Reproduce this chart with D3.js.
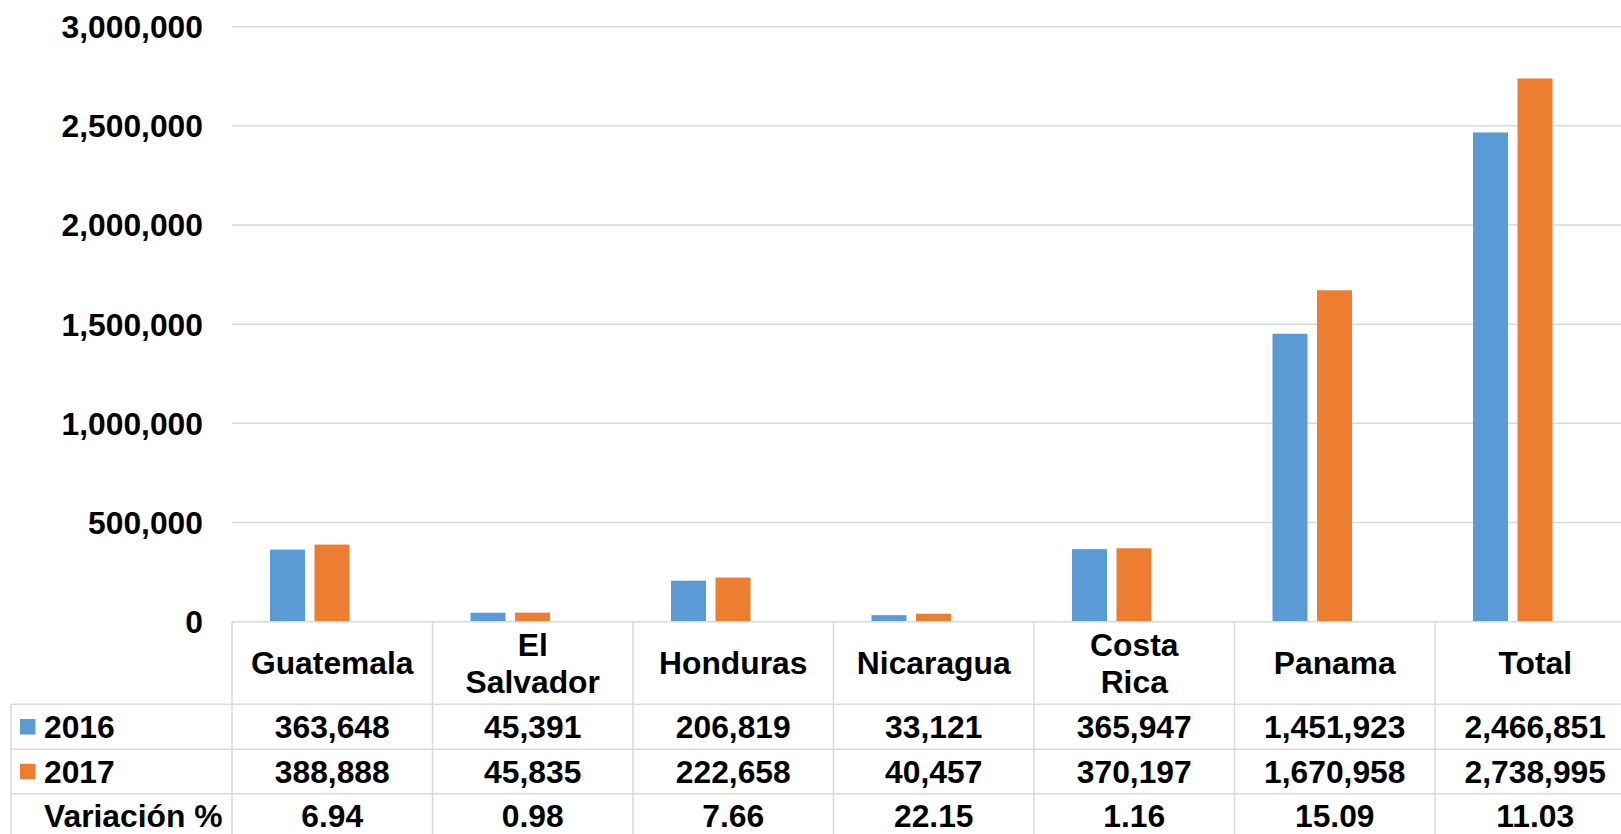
<!DOCTYPE html>
<html>
<head>
<meta charset="utf-8">
<script src="https://cdn.jsdelivr.net/npm/d3@7"></script>
<style>
  html, body { margin: 0; padding: 0; background: #fff; overflow: hidden; }
  svg { display: block; }
  text { font-family: "Liberation Sans", Arial, sans-serif; font-weight: bold; fill: #000; }
</style>
</head>
<body>
<svg id="chart" width="1621" height="834"></svg>
<script>
// ---- data ----
const categories = ["Guatemala", "El Salvador", "Honduras", "Nicaragua", "Costa Rica", "Panama", "Total"];
const seriesNames = ["2016", "2017"];
const values2016 = [363648, 45391, 206819, 33121, 365947, 1451923, 2466851];
const values2017 = [388888, 45835, 222658, 40457, 370197, 1670958, 2738995];
const variacion = ["6.94", "0.98", "7.66", "22.15", "1.16", "15.09", "11.03"];
const yTicks = [0, 500000, 1000000, 1500000, 2000000, 2500000, 3000000];
const colors = ["#5B9BD5", "#ED7D31"];

// ---- layout ----
const svg = d3.select("#chart");
const plotLeft = 232, colW = 200.5;
const y0 = 621.7, yTop = 26.7;
const tableLeft = 11;
const rowH = [82.6, 45, 44.4, 44.4]; // header, 2016, 2017, variacion
const rowY = [y0];
rowH.forEach((h, i) => rowY.push(rowY[i] + h));
const fs = 31.8;
const gridColor = "#d9d9d9";

const x = d3.scaleBand().domain(categories).range([plotLeft, plotLeft + colW * categories.length]).paddingInner(0).paddingOuter(0);
const xs = d3.scaleBand().domain(seriesNames).range([38, 117.5]).paddingInner(0.2135).paddingOuter(0);
const y = d3.scaleLinear().domain([0, 3000000]).range([y0, yTop]);

// gridlines
svg.append("g").selectAll("line").data(yTicks.filter(d => d > 0)).join("line")
  .attr("x1", plotLeft).attr("x2", 1621)
  .attr("y1", d => y(d)).attr("y2", d => y(d))
  .attr("stroke", gridColor).attr("stroke-width", 1.5);

// y axis labels
const fmt = d3.format(",");
svg.append("g").selectAll("text").data(yTicks).join("text")
  .attr("x", 203).attr("y", d => y(d)).attr("dy", "0.36em")
  .attr("text-anchor", "end").attr("font-size", fs)
  .text(d => fmt(d));

// bars
const series = [values2016, values2017];
series.forEach((vals, si) => {
  svg.append("g").selectAll("rect").data(categories).join("rect")
    .attr("x", c => x(c) + xs(seriesNames[si]))
    .attr("width", xs.bandwidth())
    .attr("y", (c, i) => y(vals[i]))
    .attr("height", (c, i) => y0 - y(vals[i]))
    .attr("fill", colors[si]);
});

// table lines
const tableRight = plotLeft + colW * categories.length;
const tg = svg.append("g").attr("stroke", gridColor).attr("stroke-width", 1.5);
tg.append("line").attr("x1", plotLeft).attr("x2", tableRight).attr("y1", y0).attr("y2", y0);
rowY.slice(1).forEach(yy => {
  tg.append("line").attr("x1", tableLeft).attr("x2", tableRight).attr("y1", yy).attr("y2", yy);
});
tg.append("line").attr("x1", tableLeft).attr("x2", tableLeft).attr("y1", rowY[1]).attr("y2", rowY[4]);
d3.range(categories.length + 1).forEach(i => {
  const xx = plotLeft + colW * i;
  tg.append("line").attr("x1", xx).attr("x2", xx).attr("y1", y0).attr("y2", rowY[4]);
});

// header texts
const lineH = 36.5;
categories.forEach(c => {
  const words = c.split(" ");
  const cx = x(c) + x.bandwidth() / 2;
  const cy = (rowY[0] + rowY[1]) / 2;
  const t = svg.append("text").attr("text-anchor", "middle").attr("font-size", fs);
  words.forEach((w, i) => {
    t.append("tspan").attr("x", cx)
      .attr("y", cy + (i - (words.length - 1) / 2) * lineH)
      .attr("dy", "0.36em").text(w);
  });
});

// data rows
const rowsData = [values2016.map(fmt), values2017.map(fmt), variacion];
const rowLabels = ["2016", "2017", "Variación %"];
rowsData.forEach((row, ri) => {
  const cy = (rowY[ri + 1] + rowY[ri + 2]) / 2;
  svg.append("g").selectAll("text").data(row).join("text")
    .attr("x", (d, i) => x(categories[i]) + x.bandwidth() / 2)
    .attr("y", cy).attr("dy", "0.36em")
    .attr("text-anchor", "middle").attr("font-size", fs)
    .text(d => d);
  svg.append("text").attr("x", 44).attr("y", cy).attr("dy", "0.36em")
    .attr("font-size", fs).text(rowLabels[ri]);
  if (ri < 2) {
    svg.append("rect").attr("x", 20).attr("y", cy - 7.75)
      .attr("width", 15.5).attr("height", 15.5).attr("fill", colors[ri]);
  }
});
</script>
</body>
</html>
